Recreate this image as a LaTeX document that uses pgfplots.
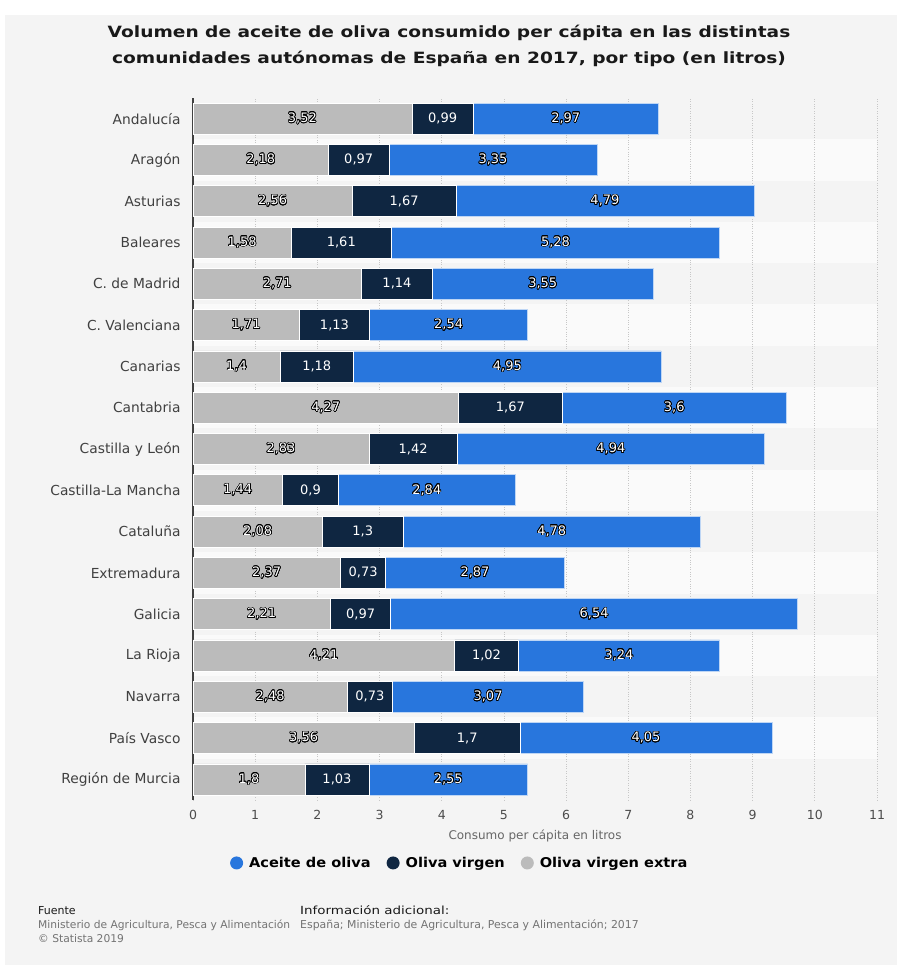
\documentclass[border=0pt]{standalone}
\usepackage{pgfplots}
\pgfplotsset{compat=1.18}
\usepackage{pgfplotstable}
\usepackage{fontspec}
\setmainfont{DejaVu Sans}
\newfontfamily\widefont[FakeStretch=1.2]{DejaVu Sans}
\newfontfamily\legfont[FakeStretch=1.08]{DejaVu Sans}
\usepackage[copies]{contour}
\contourlength{0.7pt}
\contournumber{20}
\definecolor{cblue}{HTML}{2876DD}
\definecolor{cnavy}{HTML}{0F2641}
\definecolor{cgray}{HTML}{BBBBBB}
\definecolor{panel}{HTML}{F4F4F4}
\definecolor{band}{HTML}{FAFAFA}
\pgfplotstableread{
y ex vi ac
16 3.52 0.99 2.97
15 2.18 0.97 3.35
14 2.56 1.67 4.79
13 1.58 1.61 5.28
12 2.71 1.14 3.55
11 1.71 1.13 2.54
10 1.4 1.18 4.95
9 4.27 1.67 3.6
8 2.83 1.42 4.94
7 1.44 0.9 2.84
6 2.08 1.3 4.78
5 2.37 0.73 2.87
4 2.21 0.97 6.54
3 4.21 1.02 3.24
2 2.48 0.73 3.07
1 3.56 1.7 4.05
0 1.8 1.03 2.55
}\data
\pgfplotsset{circ/.style={legend image code/.code={\fill[##1,draw=none] (0pt,0pt) circle (6.5pt);}}}
\begin{document}
\begin{tikzpicture}[x=1pt,y=1pt]
\useasboundingbox (0,0) rectangle (897,965);
\fill[white] (0,0) rectangle (897,965);
\fill[panel] (5,0) rectangle (897,950);
\foreach \k in {1,3,...,15} {\fill[band] (193,{165+\k*41.294}) rectangle (877,{165+(\k+1)*41.294});}
\node[align=center, font=\widefont\bfseries\fontsize{15.5}{26}\selectfont, text=black!90] at (449,919) {Volumen de aceite de oliva consumido per cápita en las distintas\\comunidades autónomas de España en 2017, por tipo (en litros)};
\begin{axis}[
  at={(193pt,165pt)}, anchor=south west, scale only axis,
  width=684pt, height=702pt,
  xbar stacked, bar width=31pt,
  xmin=0, xmax=11, ymin=-0.5, ymax=16.5,
  xtick={0,...,11}, ytick={0,...,16},
  yticklabels={Región de Murcia, País Vasco, Navarra, La Rioja, Galicia, Extremadura, Cataluña, Castilla-La Mancha, Castilla y León, Cantabria, Canarias, C. Valenciana, C. de Madrid, Baleares, Asturias, Aragón, Andalucía},
  axis lines*=left, x axis line style={draw=none},
  y axis line style={draw=black!75, line width=1.2pt},
  major tick length=0pt,
  xmajorgrids, major grid style={dotted, draw=black!22, line width=0.7pt},
  yticklabel style={font=\fontsize{13.8}{16}\selectfont, text=black!75, xshift=-9pt},
  xticklabel style={font=\fontsize{12.5}{14}\selectfont, text=black!70, yshift=-7pt},
  /pgf/number format/assume math mode=true,
  reverse legend,
  legend style={at={(axis description cs:0.39,-0.0897)}, anchor=center, draw=none, fill=none,
    font=\legfont\bfseries\fontsize{13.5}{16}\selectfont, legend columns=3,
    /tikz/every odd column/.append style={column sep=4pt},
    /tikz/every even column/.append style={column sep=14pt}},
]
\addplot[fill=cgray, draw=white, line width=0.6pt, circ] table[x=ex,y=y]{\data};
\addlegendentry{Oliva virgen extra}
\addplot[fill=cnavy, draw=white, line width=0.6pt, circ] table[x=vi,y=y]{\data};
\addlegendentry{Oliva virgen}
\addplot[fill=cblue, draw=white!70!cblue, line width=0.6pt, circ] table[x=ac,y=y]{\data};
\addlegendentry{Aceite de oliva}
\end{axis}
\begin{axis}[
  at={(193pt,165pt)}, anchor=south west, scale only axis,
  width=684pt, height=702pt,
  xmin=0, xmax=11, ymin=-0.5, ymax=16.5, hide axis, clip=false,
  /pgf/number format/use comma, /pgf/number format/assume math mode=true,
  nodes near coords align=center,
  every node near coord/.append style={anchor=center, font=\fontsize{13}{15}\selectfont, text=white},
]
\addplot[draw=none, mark=none, point meta=explicit, nodes near coords={\contour{black}{\pgfmathprintnumber{\pgfplotspointmeta}}}] table[x expr=\thisrow{ex}/2, y=y, meta=ex]{\data};
\addplot[draw=none, mark=none, point meta=explicit, nodes near coords] table[x expr=\thisrow{ex}+\thisrow{vi}/2, y=y, meta=vi]{\data};
\addplot[draw=none, mark=none, point meta=explicit, nodes near coords={\contour{black}{\pgfmathprintnumber{\pgfplotspointmeta}}}] table[x expr=\thisrow{ex}+\thisrow{vi}+\thisrow{ac}/2, y=y, meta=ac]{\data};
\end{axis}
\node[font=\fontsize{12}{14}\selectfont, text=black!60] at (535,129) {Consumo per cápita en litros};
\node[anchor=base west, inner sep=0, font=\fontsize{11}{14}\selectfont, text=black!90] at (38,50) {Fuente};
\node[anchor=base west, inner sep=0, font=\fontsize{10.7}{14}\selectfont, text=black!55] at (38,36) {Ministerio de Agricultura, Pesca y Alimentación};
\node[anchor=base west, inner sep=0, font=\fontsize{10.7}{14}\selectfont, text=black!55] at (38,22) {© Statista 2019};
\node[anchor=base west, inner sep=0, font=\widefont\fontsize{11.2}{14}\selectfont, text=black!90] at (300,50) {Información adicional:};
\node[anchor=base west, inner sep=0, font=\fontsize{10.9}{14}\selectfont, text=black!55] at (300,36) {España; Ministerio de Agricultura, Pesca y Alimentación; 2017};
\end{tikzpicture}
\end{document}
